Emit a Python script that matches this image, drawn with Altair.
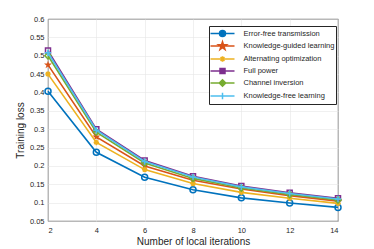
import altair as alt
import pandas as pd

iterations = [2, 4, 6, 8, 10, 12, 14]
series_names = [
    "Error-free transmission",
    "Knowledge-guided learning",
    "Alternating optimization",
    "Full power",
    "Channel inversion",
    "Knowledge-free learning",
]
error_free = [0.403, 0.237, 0.169, 0.135, 0.113, 0.099, 0.087]
knowledge_guided = [0.475, 0.279, 0.200, 0.161, 0.137, 0.119, 0.104]
alternating = [0.450, 0.264, 0.190, 0.152, 0.128, 0.112, 0.098]
full_power = [0.514, 0.300, 0.215, 0.172, 0.145, 0.127, 0.112]
channel_inv = [0.500, 0.292, 0.208, 0.166, 0.140, 0.122, 0.107]
knowledge_free = [0.508, 0.297, 0.212, 0.170, 0.143, 0.125, 0.110]
y_ticks = [0.05, 0.1, 0.15, 0.2, 0.25, 0.3, 0.35, 0.4, 0.45, 0.5, 0.55, 0.6]

all_values = [error_free, knowledge_guided, alternating, full_power, channel_inv, knowledge_free]
colors = ["#0072BD", "#D95319", "#EDB120", "#7E2F8E", "#77AC30", "#4DBEEE"]

rows = []
for name, vals in zip(series_names, all_values):
    for x, v in zip(iterations, vals):
        rows.append({"series": name, "iter": x, "loss": v})
df = pd.DataFrame(rows)

# marker paths (unit coords)
def star(r):
    pts = [(0, -1), (0.225, -0.309), (0.951, -0.309), (0.363, 0.118), (0.588, 0.809),
           (0, 0.382), (-0.588, 0.809), (-0.363, 0.118), (-0.951, -0.309), (-0.225, -0.309)]
    return "M" + "L".join(f"{px*r:.3f},{py*r:.3f}" for px, py in pts) + "Z"

def circle(r):
    return f"M{-r},0A{r},{r} 0 1,0 {r},0A{r},{r} 0 1,0 {-r},0Z"

def square(r):
    return f"M{-r},{-r}H{r}V{r}H{-r}Z"

def diamond(r):
    return f"M0,{-r}L{r},0L0,{r}L{-r},0Z"

def plus(r):
    return f"M{-r},0H{r}M0,{-r}V{r}"

def asterisk(r):
    d = r * 0.707
    return f"M{-r},0H{r}M0,{-r}V{r}M{-d},{-d}L{d},{d}M{-d},{d}L{d},{-d}"

marker_fns = [circle, star, asterisk, square, diamond, plus]
marker_sizes = [36, 70, 30, 25, 40, 40]
marker_filled = [False, True, False, False, False, False]
legend_r = [0.6, 0.85, 0.55, 0.5, 0.65, 0.65]
legend_shapes = [f"M-2.4,0H2.4" + fn(r) for fn, r in zip(marker_fns, legend_r)]

color_scale = alt.Scale(domain=series_names, range=colors)
font = "Liberation Sans"

xenc = alt.X("iter:Q", title="Number of local iterations",
             scale=alt.Scale(domain=[2, 14], nice=False),
             axis=alt.Axis(values=iterations, tickCount=20, format="d", grid=True, tickSize=0,
                           labelOverlap=False, labelPadding=5, titlePadding=3))
yenc = alt.Y("loss:Q", title="Training loss",
             scale=alt.Scale(domain=[0.05, 0.6], nice=False),
             axis=alt.Axis(values=y_ticks, tickCount=30, format=".2~f", grid=True, tickSize=0,
                           labelOverlap=False, labelPadding=4, titlePadding=4, titleY=111))

base = alt.Chart(df)
layers = []
for i, name in enumerate(series_names):
    sub = base.transform_filter(alt.datum.series == name)
    layers.append(sub.mark_line(strokeWidth=1.6).encode(
        x=xenc, y=yenc, color=alt.Color("series:N", scale=color_scale, title=None)))
    layers.append(sub.mark_point(shape=marker_fns[i](1), size=marker_sizes[i],
                                 filled=marker_filled[i], strokeWidth=1.5, opacity=1).encode(
        x=xenc, y=yenc, color=alt.Color("series:N", scale=color_scale, title=None)))

legend_layer = base.transform_filter(alt.datum.iter < 0).mark_point(
    filled=False, strokeWidth=1.5).encode(
    x=xenc, y=yenc,
    color=alt.Color("series:N", scale=color_scale, title=None,
                    legend=alt.Legend(orient="none", legendX=161, legendY=7,
                                      symbolSize=100, symbolStrokeWidth=1.5,
                                      symbolOffset=6, labelOffset=15,
                                      rowPadding=-1.5, padding=1.5,
                                      strokeColor="#262626", fillColor="white",
                                      labelFont=font, labelFontSize=7.5,
                                      labelColor="#262626", cornerRadius=0)),
    shape=alt.Shape("series:N", scale=alt.Scale(domain=series_names, range=legend_shapes),
                    title=None),
)

chart = alt.layer(*layers, legend_layer).properties(
    width=290, height=202,
    padding={"left": 40, "top": 11, "right": 20, "bottom": 30},
    autosize=alt.AutoSizeParams(type="none"),
).configure_view(stroke="#262626", strokeWidth=0.8).configure_axis(
    labelFont=font, labelFontSize=7.5, labelColor="#262626",
    titleFont=font, titleFontSize=10, titleColor="#262626", titleFontWeight="normal",
    gridColor="#e6e6e6", gridWidth=0.6, domain=False,
)

chart.save("out.html", embed_options={"renderer": "svg", "actions": False})
